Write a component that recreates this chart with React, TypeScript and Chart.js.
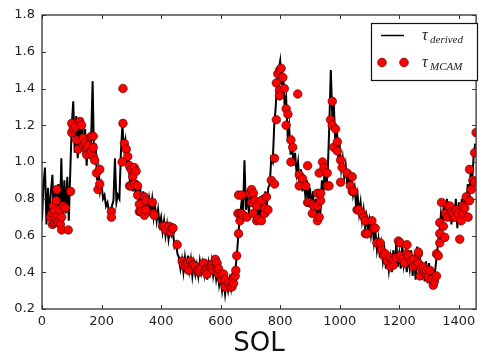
import React, { useEffect, useRef } from 'react';
import { Chart, registerables } from 'chart.js';

Chart.register(...registerables);

// ---- data ----
const SOL_STEP = 5;
const derivedTau = [
  0.68, 0.88, 0.97, 0.66, 0.86, 0.70, 0.84, 0.93, 0.68, 0.85, 0.72, 0.88, 0.70, 1.02, 0.66, 0.90, 0.72, 0.92, 0.68, 0.95,
  1.20, 1.33, 1.05, 1.25, 1.02, 1.22, 1.10, 1.24, 1.04, 1.18, 0.98, 1.15, 1.03, 1.12, 1.44, 1.00, 1.10, 0.90, 0.96, 0.84,
  0.88, 0.80, 0.82, 0.76, 0.78, 0.73, 0.72, 0.76, 0.79, 1.02, 0.78, 0.82, 0.80, 1.05, 1.20, 1.08, 1.12, 0.96, 1.04, 0.90,
  0.95, 0.84, 0.92, 0.80, 0.90, 0.76, 0.86, 0.72, 0.84, 0.74, 0.82, 0.72, 0.80, 0.74, 0.80, 0.70, 0.76, 0.68, 0.74, 0.66,
  0.70, 0.62, 0.68, 0.60, 0.66, 0.58, 0.64, 0.60, 0.62, 0.54, 0.56, 0.50, 0.48, 0.42, 0.47, 0.40, 0.48, 0.40, 0.49, 0.41,
  0.47, 0.38, 0.45, 0.39, 0.44, 0.38, 0.46, 0.40, 0.45, 0.39, 0.47, 0.36, 0.45, 0.40, 0.46, 0.38, 0.43, 0.36, 0.41, 0.33,
  0.38, 0.30, 0.36, 0.28, 0.35, 0.30, 0.36, 0.31, 0.38, 0.34, 0.42, 0.50, 0.62, 0.70, 0.78, 0.72, 1.01, 0.74, 0.82, 0.72,
  0.84, 0.76, 0.85, 0.70, 0.80, 0.68, 0.78, 0.70, 0.82, 0.72, 0.84, 0.76, 0.86, 0.88, 1.02, 1.00, 1.20, 1.30, 1.45, 1.50,
  1.55, 1.42, 1.48, 1.30, 1.35, 1.15, 1.20, 1.04, 1.10, 0.98, 1.05, 0.94, 1.00, 0.88, 0.96, 0.84, 0.92, 0.80, 0.90, 0.76,
  0.86, 0.74, 0.84, 0.72, 0.80, 0.70, 0.78, 0.72, 0.90, 0.84, 0.98, 0.86, 0.96, 1.20, 1.50, 1.25, 1.32, 1.10, 1.20, 1.02,
  1.08, 0.96, 1.02, 0.92, 0.98, 0.88, 0.95, 0.85, 0.92, 0.82, 0.86, 0.76, 0.82, 0.72, 0.78, 0.68, 0.74, 0.64, 0.70, 0.62,
  0.68, 0.60, 0.66, 0.56, 0.62, 0.52, 0.58, 0.48, 0.55, 0.46, 0.52, 0.42, 0.50, 0.41, 0.48, 0.40, 0.52, 0.42, 0.56, 0.43,
  0.50, 0.42, 0.55, 0.44, 0.50, 0.40, 0.48, 0.42, 0.52, 0.38, 0.48, 0.36, 0.54, 0.40, 0.46, 0.36, 0.44, 0.35, 0.46, 0.34,
  0.45, 0.33, 0.42, 0.32, 0.40, 0.48, 0.56, 0.62, 0.72, 0.66, 0.78, 0.68, 0.80, 0.70, 0.78, 0.66, 0.76, 0.68, 0.80, 0.64,
  0.78, 0.66, 0.80, 0.70, 0.82, 0.74, 0.88, 0.80, 0.96, 0.90, 1.04, 1.10,
];
const derivedSol = derivedTau.map((_, i) => i * SOL_STEP);

const mcamSol = [
  28, 33, 35, 38, 39, 42, 44, 44, 48, 50, 50, 53, 55, 60, 62, 66, 66, 72, 78, 88, 96,
  100, 100, 105, 111, 116, 122, 127, 133, 138, 138, 145, 150, 150, 155, 160, 166, 166, 172, 172, 172, 177, 183, 188, 194, 194,
  233, 233, 269, 272, 272, 277, 283, 288, 294, 294, 299, 299,
  305, 310, 310, 316, 321, 321, 327, 327, 332, 344, 344, 349, 349, 371, 374, 377,
  405, 410, 416, 427, 432, 438, 440, 454, 471, 475, 482, 482, 488, 490, 493, 499,
  504, 510, 515, 520, 527, 527, 535, 543, 548, 554, 554, 560, 565, 571, 571, 577, 582, 588, 588, 593, 593,
  604, 604, 610, 615, 615, 627, 632, 638, 643, 643, 649, 651, 654, 660, 658, 660, 665, 665, 671, 671, 676, 688, 698,
  704, 704, 709, 710, 715, 721, 721, 726, 737, 737, 748, 748, 754, 759, 770, 781, 781, 787, 787, 792, 798, 798, 798, 803, 809, 814,
  820, 820, 826, 836, 836, 842, 859, 864, 864, 875, 886, 892, 892, 897,
  908, 908, 914, 925, 925, 925, 931, 931, 936, 936, 942, 947, 958, 958, 964, 969, 975, 975, 980, 986, 992, 992,
  1003, 1003, 1008, 1025, 1036, 1042, 1042, 1047, 1058, 1064, 1075, 1081, 1086, 1086, 1092,
  1108, 1114, 1119, 1125, 1136, 1140, 1148, 1153, 1160, 1169, 1170, 1175, 1181, 1181, 1190, 1197,
  1203, 1203, 1210, 1218, 1225, 1226, 1231, 1240, 1248, 1248, 1255, 1264, 1264, 1264, 1270, 1275, 1281, 1285, 1292, 1292, 1298,
  1303, 1308, 1314, 1318, 1325, 1325, 1331, 1336, 1336, 1336, 1342, 1348, 1353, 1355, 1362, 1364, 1370, 1375, 1381, 1381, 1388,
  1392, 1398, 1403, 1408, 1414, 1414, 1420, 1425, 1431, 1436, 1436, 1442, 1447, 1453, 1453, 1458,
];
const mcamTau = [
  0.70, 0.72, 0.66, 0.76, 0.67, 0.73, 0.70, 0.67, 0.79, 0.85, 0.68, 0.71, 0.67, 0.74, 0.66, 0.70, 0.63, 0.76, 0.75, 0.63, 0.84,
  1.21, 1.16, 1.18, 1.19, 1.12, 1.07, 1.22, 1.20, 1.13, 1.09, 1.10, 1.07, 1.04, 1.09, 1.05, 1.14, 1.06, 1.14, 1.08, 1.03, 1.01, 0.94, 0.85, 0.96, 0.88,
  0.73, 0.70, 1.00, 1.40, 1.21, 1.10, 1.07, 1.03, 0.98, 0.87, 0.96, 0.87,
  0.92, 0.97, 0.88, 0.95, 0.87, 0.82, 0.77, 0.73, 0.73, 0.81, 0.71, 0.79, 0.74, 0.78, 0.72, 0.71,
  0.65, 0.65, 0.63, 0.65, 0.62, 0.64, 0.64, 0.55, 0.46, 0.44, 0.44, 0.43, 0.42, 0.45, 0.41, 0.46,
  0.44, 0.44, 0.43, 0.41, 0.40, 0.41, 0.42, 0.45, 0.41, 0.42, 0.39, 0.44, 0.43, 0.44, 0.42, 0.41, 0.47, 0.42, 0.45, 0.39, 0.42,
  0.36, 0.39, 0.39, 0.32, 0.36, 0.34, 0.32, 0.32, 0.37, 0.34, 0.38, 0.41, 0.49, 0.61, 0.72, 0.82, 0.72, 0.68, 0.82, 0.72, 0.71, 0.70, 0.83,
  0.85, 0.78, 0.72, 0.83, 0.79, 0.68, 0.76, 0.69, 0.79, 0.68, 0.72, 0.75, 0.81, 0.74, 0.90, 0.88, 1.02, 1.23, 1.43, 1.48, 1.50, 1.39, 1.36, 1.51, 1.46, 1.40,
  1.20, 1.29, 1.26, 1.12, 1.00, 1.08, 1.37, 0.93, 0.87, 0.91, 0.87, 0.98, 0.78, 0.78,
  0.77, 0.72, 0.76, 0.83, 0.76, 0.68, 0.94, 0.70, 0.79, 0.83, 1.00, 0.97, 0.94, 0.87, 0.87, 1.23, 1.33, 1.20, 1.08, 1.18, 1.11, 1.06,
  1.01, 0.89, 0.97, 0.94, 0.87, 0.92, 0.84, 0.84, 0.74, 0.74, 0.72, 0.70, 0.68, 0.61, 0.61,
  0.68, 0.64, 0.64, 0.56, 0.56, 0.52, 0.49, 0.50, 0.46, 0.48, 0.43, 0.45, 0.44, 0.47, 0.48, 0.57,
  0.49, 0.56, 0.47, 0.45, 0.50, 0.55, 0.49, 0.46, 0.47, 0.43, 0.44, 0.50, 0.45, 0.51, 0.38, 0.42, 0.43, 0.40, 0.39, 0.41, 0.37,
  0.41, 0.36, 0.33, 0.35, 0.38, 0.50, 0.49, 0.61, 0.67, 0.56, 0.78, 0.65, 0.59, 0.72, 0.70, 0.76, 0.76, 0.73, 0.70, 0.72, 0.70,
  0.74, 0.72, 0.58, 0.68, 0.76, 0.72, 0.75, 0.81, 0.70, 0.96, 0.79, 0.85, 0.90, 1.05, 0.89, 1.16,
];

const xTicks = [0, 200, 400, 600, 800, 1000, 1200, 1400];
const yTicks = [0.2, 0.4, 0.6, 0.8, 1.0, 1.2, 1.4, 1.6, 1.8];
const X_MIN = 0;
const X_MAX = 1458;
const Y_MIN = 0.2;
const Y_MAX = 1.8;
const xTitle = 'SOL';
const legendSymbol = 'τ';
const legendSubs = ['derived', 'MCAM'];

const framePlugin = {
  id: 'frame',
  afterDraw(chart: any) {
    const { ctx, chartArea: a, scales } = chart;
    const xs = scales.x;
    const ys = scales.y;
    ctx.save();
    ctx.strokeStyle = '#333';
    ctx.lineWidth = 1;
    ctx.beginPath();
    xTicks.forEach((v) => {
      const px = Math.round(xs.getPixelForValue(v)) + 0.5;
      ctx.moveTo(px, a.bottom);
      ctx.lineTo(px, a.bottom - 4);
      ctx.moveTo(px, a.top);
      ctx.lineTo(px, a.top + 4);
    });
    yTicks.forEach((v) => {
      const py = Math.round(ys.getPixelForValue(v)) + 0.5;
      ctx.moveTo(a.left, py);
      ctx.lineTo(a.left + 4, py);
      ctx.moveTo(a.right, py);
      ctx.lineTo(a.right - 4, py);
    });
    ctx.stroke();
    ctx.lineWidth = 1.3;
    ctx.strokeRect(a.left, a.top, a.right - a.left, a.bottom - a.top);

    // legend
    const lx = 371, ly = 23, lw = 106, lh = 57;
    ctx.fillStyle = '#fff';
    ctx.fillRect(lx, ly, lw, lh);
    ctx.strokeStyle = '#111';
    ctx.lineWidth = 1.2;
    ctx.strokeRect(lx + 0.5, ly + 0.5, lw, lh);
    ctx.strokeStyle = '#000';
    ctx.lineWidth = 1.5;
    ctx.beginPath();
    ctx.moveTo(381, 35.5);
    ctx.lineTo(404, 35.5);
    ctx.stroke();
    [382, 404].forEach((cx) => {
      ctx.beginPath();
      ctx.arc(cx, 62.5, 4.4, 0, Math.PI * 2);
      ctx.fillStyle = '#ff0000';
      ctx.fill();
      ctx.strokeStyle = '#400';
      ctx.lineWidth = 0.6;
      ctx.stroke();
    });
    ctx.fillStyle = '#222';
    ctx.textBaseline = 'alphabetic';
    ctx.textAlign = 'left';
    const rows = [40, 67];
    legendSubs.forEach((sub, i) => {
      ctx.font = 'italic 16px "Liberation Serif"';
      ctx.fillText(legendSymbol, 422, rows[i]);
      ctx.font = 'italic 11px "Liberation Serif"';
      ctx.fillText(sub, 430, rows[i] + 3);
    });
    ctx.restore();
  },
};

export default function App() {
  const ref = useRef<HTMLCanvasElement | null>(null);
  useEffect(() => {
    document.body.style.margin = '0';
    const canvas = ref.current;
    if (!canvas) return;
    const chart = new Chart(canvas, {
      type: 'scatter',
      data: {
        datasets: [
          {
            label: 'MCAM',
            data: mcamSol.map((s, i) => ({ x: s, y: mcamTau[i] })),
            backgroundColor: '#ff0000',
            borderColor: '#3a0000',
            borderWidth: 0.6,
            pointRadius: 4.3,
            pointHoverRadius: 4.3,
            order: 0,
          },
          {
            label: 'derived',
            data: derivedSol.map((s, i) => ({ x: s, y: derivedTau[i] })),
            showLine: true,
            borderColor: '#000',
            borderWidth: 2,
            pointRadius: 0,
            tension: 0,
            order: 1,
          },
        ],
      },
      options: {
        responsive: false,
        animation: false,
        devicePixelRatio: 1,
        layout: { padding: { top: 15, right: 1, left: 0, bottom: 0 } },
        plugins: {
          legend: { display: false },
          tooltip: { enabled: false },
        },
        scales: {
          x: {
            type: 'linear',
            min: X_MIN,
            max: X_MAX,
            grid: { display: false, drawTicks: false },
            border: { display: false },
            ticks: {
              stepSize: 200,
              includeBounds: false,
              maxRotation: 0,
              autoSkip: false,
              padding: 5,
              color: '#222',
              font: { family: '"DejaVu Sans"', size: 13 },
              callback: (v: any) => String(v),
            },
            title: {
              display: true,
              text: xTitle,
              color: '#111',
              font: { family: '"DejaVu Sans"', size: 26 },
              padding: { top: 0, bottom: 0 },
            },
            afterFit: (s: any) => {
              s.height = 51;
            },
          },
          y: {
            type: 'linear',
            min: Y_MIN,
            max: Y_MAX,
            grid: { display: false, drawTicks: false },
            border: { display: false },
            ticks: {
              stepSize: 0.2,
              padding: 7,
              color: '#222',
              font: { family: '"DejaVu Sans"', size: 13 },
              callback: (v: any) => Number(v).toFixed(1),
            },
            afterFit: (s: any) => {
              s.width = 42;
            },
          },
        },
      },
      plugins: [framePlugin],
    });
    return () => chart.destroy();
  }, []);
  return (
    <canvas ref={ref} width={481} height={360} style={{ display: 'block', width: 481, height: 360 }} />
  );
}
